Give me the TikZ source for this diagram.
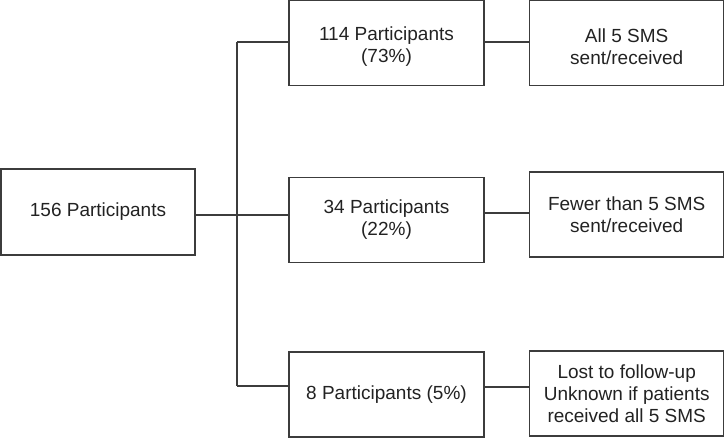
\documentclass[tikz,border=0pt]{standalone}
\usepackage{fontspec}
\setmainfont{Liberation Sans}
\usepackage{xcolor}
\usepackage{tikz}
\usetikzlibrary{positioning}

\definecolor{linegray}{HTML}{3C3C3C}
\definecolor{textgray}{HTML}{222222}

\tikzset{
  flowbox/.style={draw=linegray, line width=1.2pt, minimum width=194pt, minimum height=85pt,
    align=center, inner sep=2pt, text=textgray, font=\fontsize{19}{22}\selectfont},
  link/.style={draw=linegray, line width=1.2pt}
}
% pushes the text of the top row a little down
\newcommand{\toprow}{\rule{0pt}{21pt}}

\begin{document}
\begin{tikzpicture}[x=1pt,y=1pt]
\useasboundingbox (0,0) rectangle (724,438);
% all participants
\node[flowbox, minimum height=86pt] (total) at (98,226) {156 Participants};
% second column
\node[flowbox, minimum width=195pt] (full) at (386.5,395) {\toprow 114 Participants\\(73\%)};
\node[flowbox, minimum width=195pt] (part) at (386.5,218) {34 Participants\\(22\%)};
\node[flowbox, minimum width=195pt] (lost) at (386.5,43.5) {8 Participants (5\%)};
% third column
\node[flowbox] (fullsms) [right=44.5pt of full] {\toprow All 5 SMS\\sent/received};
\node[flowbox] (partsms) [right=44.5pt of part, yshift=5.5pt] {Fewer than 5 SMS\\sent/received};
\node[flowbox] (lostsms) [right=44.5pt of lost, yshift=1pt] {Lost to follow-up\\Unknown if patients\\received all 5 SMS};
% branching bus
\coordinate (bustop) at (237,396);
\coordinate (busbot) at (237,52);
\draw[link] (bustop) -- (busbot);
\draw[link] (bustop) -- (bustop -| full.west);
\draw[link] ([yshift=-3pt]total.east) -- ([yshift=-3pt]total.east -| part.west);
\draw[link] (busbot) -- (busbot -| lost.west);
% outcomes
\draw[link] ([yshift=1pt]full.east) -- ([yshift=1pt]full.east -| fullsms.west);
\draw[link] ([yshift=1.5pt]partsms.west -| part.east) -- ([yshift=1.5pt]partsms.west);
\draw[link] ([yshift=7.5pt]lost.east) -- ([yshift=7.5pt]lost.east -| lostsms.west);
\end{tikzpicture}
\end{document}
